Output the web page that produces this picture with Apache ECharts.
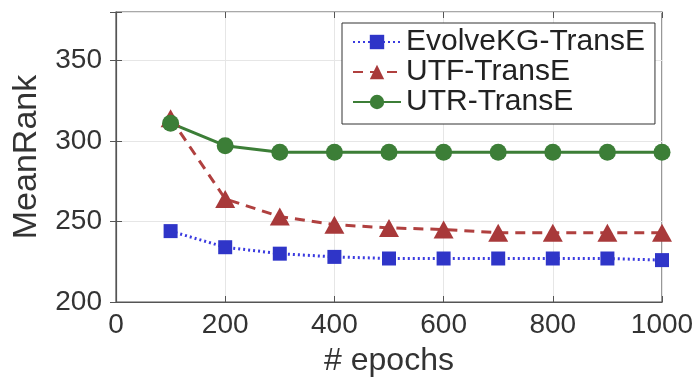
<!DOCTYPE html>
<html>
<head>
<meta charset="utf-8">
<script src="https://cdn.jsdelivr.net/npm/echarts@6/dist/echarts.min.js"></script>
<style>
  html, body { margin: 0; padding: 0; background: #fff; }
  #chart { width: 698px; height: 378px; }
</style>
</head>
<body>
<div id="chart"></div>
<script>
// epochs on the x axis
var epochs = [100, 200, 300, 400, 500, 600, 700, 800, 900, 1000]
// MeanRank per method
var evolveKG = [244, 234, 230, 228, 227, 227, 227, 227, 227, 226]
var utf = [314, 264, 253, 248, 246, 245, 243, 243, 243, 243]
var utr = [311, 297, 293, 293, 293, 293, 293, 293, 293, 293]

function pairs (ys) {
  return epochs.map(function (x, i) { return [x, ys[i]] })
}

var font = 'Liberation Sans, Arial, Helvetica, sans-serif'
var axisColor = '#555'
var chart = echarts.init(document.getElementById('chart'))

// mirrored axes only draw the small inner ticks on top / right
var mirrorX = {
  type: 'value', position: 'top', min: 0, max: 1000, interval: 200,
  axisLine: { show: false },
  axisTick: { inside: true, length: 6, lineStyle: { color: axisColor } },
  axisLabel: { show: false },
  splitLine: { show: false }
}
var mirrorY = {
  type: 'value', position: 'right', min: 200, max: 380, interval: 50,
  axisLine: { show: false },
  axisTick: { show: true, inside: true, length: 6, lineStyle: { color: axisColor } },
  axisLabel: { show: false },
  splitLine: { show: false }
}

var option = {
  animation: false,
  grid: {
    left: 116,
    right: 36,
    top: 12,
    bottom: 76,
    outerBoundsMode: 'none',
    containLabel: false,
    show: true,
    borderColor: axisColor,
    borderWidth: 1.2
  },
  legend: {
    orient: 'vertical',
    left: 342,
    top: 23,
    padding: [4, 10, 7, 10],
    itemGap: 0,
    itemWidth: 48,
    itemHeight: 18,
    backgroundColor: '#fff',
    borderColor: '#333',
    borderWidth: 1,
    textStyle: { fontFamily: font, fontSize: 30, lineHeight: 30, color: '#222' },
    data: ['EvolveKG-TransE', 'UTF-TransE', 'UTR-TransE']
  },
  xAxis: [{
    type: 'value',
    min: 0,
    max: 1000,
    interval: 200,
    name: '# epochs',
    nameLocation: 'middle',
    nameGap: 43,
    nameTextStyle: { fontFamily: font, fontSize: 32, color: '#333' },
    axisLine: { lineStyle: { color: axisColor, width: 1.2 } },
    axisTick: { inside: true, length: 6, lineStyle: { color: axisColor } },
    axisLabel: {
      fontFamily: font, fontSize: 28, color: '#333', margin: 9,
      formatter: function (v) { return String(v) }
    },
    splitLine: { show: true, lineStyle: { color: '#e6e6e6' } }
  }, mirrorX],
  yAxis: [{
    type: 'value',
    min: 200,
    max: 380,
    interval: 50,
    name: 'MeanRank',
    nameLocation: 'middle',
    nameGap: 72,
    nameTextStyle: { fontFamily: font, fontSize: 34, color: '#333' },
    axisLine: { show: true, lineStyle: { color: axisColor, width: 1.2 } },
    axisTick: { show: true, inside: true, length: 6, lineStyle: { color: axisColor } },
    axisLabel: {
      fontFamily: font, fontSize: 28, color: '#333', margin: 14,
      formatter: function (v) { return v % 50 === 0 ? String(v) : '' }
    },
    splitLine: { show: true, lineStyle: { color: '#e6e6e6' } }
  }, mirrorY],
  series: [
    {
      name: 'EvolveKG-TransE',
      type: 'line',
      data: pairs(evolveKG),
      symbol: 'rect',
      symbolSize: 14,
      itemStyle: { color: '#2f35c8' },
      lineStyle: { color: '#3a3ae0', width: 3, type: [2, 3] }
    },
    {
      name: 'UTF-TransE',
      type: 'line',
      data: pairs(utf),
      symbol: 'triangle',
      symbolSize: [20, 18],
      itemStyle: { color: '#a8393a' },
      lineStyle: { color: '#b0403f', width: 3, type: [10, 7] }
    },
    {
      name: 'UTR-TransE',
      type: 'line',
      data: pairs(utr),
      symbol: 'circle',
      symbolSize: 17,
      itemStyle: { color: '#3c7e37' },
      lineStyle: { color: '#3c7e37', width: 3 }
    }
  ]
}
chart.setOption(option)
</script>
</body>
</html>
